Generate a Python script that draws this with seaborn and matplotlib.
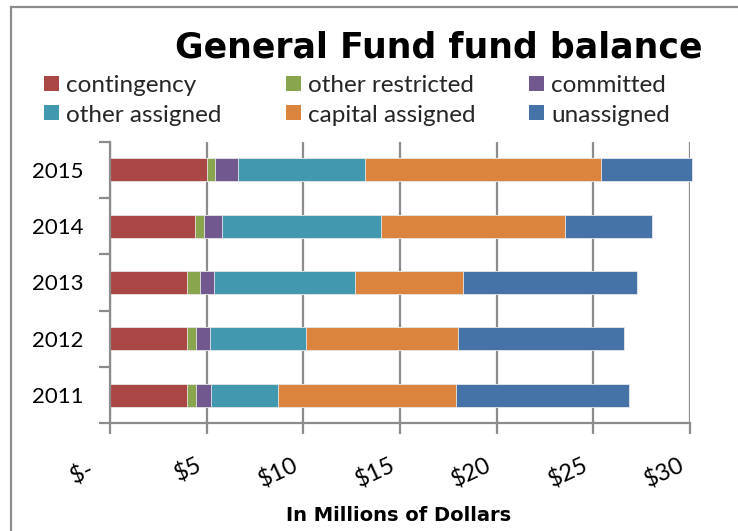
import matplotlib
matplotlib.use("Agg")
import matplotlib.pyplot as plt
import matplotlib.transforms as mtransforms
import seaborn as sns
import pandas as pd
from matplotlib.patches import Rectangle, Patch

# ---- data (millions of dollars) ----
years = ["2015", "2014", "2013", "2012", "2011"]
series_names = ["contingency", "other restricted", "committed",
                "other assigned", "capital assigned", "unassigned"]
contingency = [5.0, 4.4, 4.0, 4.0, 4.0]
other_restricted = [0.45, 0.47, 0.67, 0.46, 0.46]
committed = [1.15, 0.92, 0.72, 0.72, 0.78]
other_assigned = [6.6, 8.25, 7.3, 4.94, 3.46]
capital_assigned = [12.2, 9.5, 5.57, 7.9, 9.22]
unassigned = [4.7, 4.5, 8.98, 8.57, 8.9]
x_ticks = [0, 5, 10, 15, 20, 25, 30]
x_tick_labels = [r"\$-  ", r"\$5", r"\$10", r"\$15", r"\$20", r"\$25", r"\$30"]
colors = ["#AA4643", "#89A54E", "#71588F", "#4198AF", "#DB843D", "#4572A7"]

sns.set_theme(style="white")
plt.rcParams["font.family"] = ["Lato", "DejaVu Sans"]

W, H = 738, 531
fig = plt.figure(figsize=(W / 100, H / 100), dpi=100)
fig.patch.set_facecolor("white")

ax_left, ax_right, ax_top, ax_bottom = 110, 690, 141.7, 423.3
ax = fig.add_axes([ax_left / W, 1 - ax_bottom / H,
                   (ax_right - ax_left) / W, (ax_bottom - ax_top) / H])

df = pd.DataFrame({"year": years,
                   "contingency": contingency,
                   "other restricted": other_restricted,
                   "committed": committed,
                   "other assigned": other_assigned,
                   "capital assigned": capital_assigned,
                   "unassigned": unassigned})
cum = df[series_names].cumsum(axis=1)
cum["year"] = df["year"]

# stacked bars: draw cumulative totals from the outermost segment inwards
for name, col in reversed(list(zip(series_names, colors))):
    sns.barplot(data=cum, x=name, y="year", order=years, orient="h",
                color=col, saturation=1, width=0.41, errorbar=None,
                edgecolor="#E8E8E8", linewidth=0.6, clip_on=False, ax=ax)

ax.set_xlim(0, 30)
ax.set_ylim(4.5, -0.5)
ax.set_xlabel("")
ax.set_ylabel("")

grid_col = "#8C8C8C"
ax.xaxis.grid(True, color=grid_col, linewidth=1.6)
ax.yaxis.grid(False)
ax.set_axisbelow(True)

for s in ["top", "right"]:
    ax.spines[s].set_visible(False)
for s in ["left", "bottom"]:
    ax.spines[s].set_color(grid_col)
    ax.spines[s].set_linewidth(1.6)

ax.set_xticks(x_ticks)
ax.tick_params(axis="x", which="major", direction="out", length=8, width=1.6,
               color=grid_col, pad=14, labelsize=17, labelcolor="black",
               bottom=True)
ax.set_yticks(range(len(years)))
ax.set_yticks([i - 0.5 for i in range(len(years) + 1)], minor=True)
ax.tick_params(axis="y", which="major", length=0, pad=19, labelsize=16,
               labelcolor="black", left=True)
ax.tick_params(axis="y", which="minor", direction="out", length=8, width=1.6,
               color=grid_col, left=True)

ax.set_xticklabels(x_tick_labels, rotation=25, ha="right", va="top",
                   rotation_mode="anchor")
shift = mtransforms.ScaledTranslation(-11 / 100, 0, fig.dpi_scale_trans)
for lab in ax.get_xticklabels():
    lab.set_transform(lab.get_transform() + shift)

# title and axis title
fig.text(439 / W, 1 - 57 / H, "General Fund fund balance", ha="center",
         va="baseline", fontsize=25, fontweight="bold", color="black",
         family=["DejaVu Sans"])
fig.text(399 / W, 1 - 521 / H, "In Millions of Dollars", ha="center",
         va="baseline", fontsize=14, fontweight="bold", color="black",
         family=["DejaVu Sans"])

# legend: three columns, two rows (row-major order like the reference)
col_x = [44, 286, 529]
for c in range(3):
    idx = [c, c + 3]
    handles = [Patch(facecolor=colors[i], edgecolor="none") for i in idx]
    labels = [series_names[i] for i in idx]
    fig.legend(handles, labels, loc="upper left",
               bbox_to_anchor=(col_x[c] / W, 1 - 75 / H),
               frameon=False, fontsize=17.5, handlelength=0.62,
               handleheight=0.58, handletextpad=0.3,
               labelspacing=0.35, borderpad=0, borderaxespad=0)

# outer chart border (extends beyond right/bottom of the image)
fig.add_artist(Rectangle((10.5 / W, -0.05), 1.0, 1 - 7 / H + 0.05,
                         transform=fig.transFigure, fill=False,
                         edgecolor=grid_col, linewidth=1.6))

fig.savefig("out.png", dpi=100, facecolor="white")
